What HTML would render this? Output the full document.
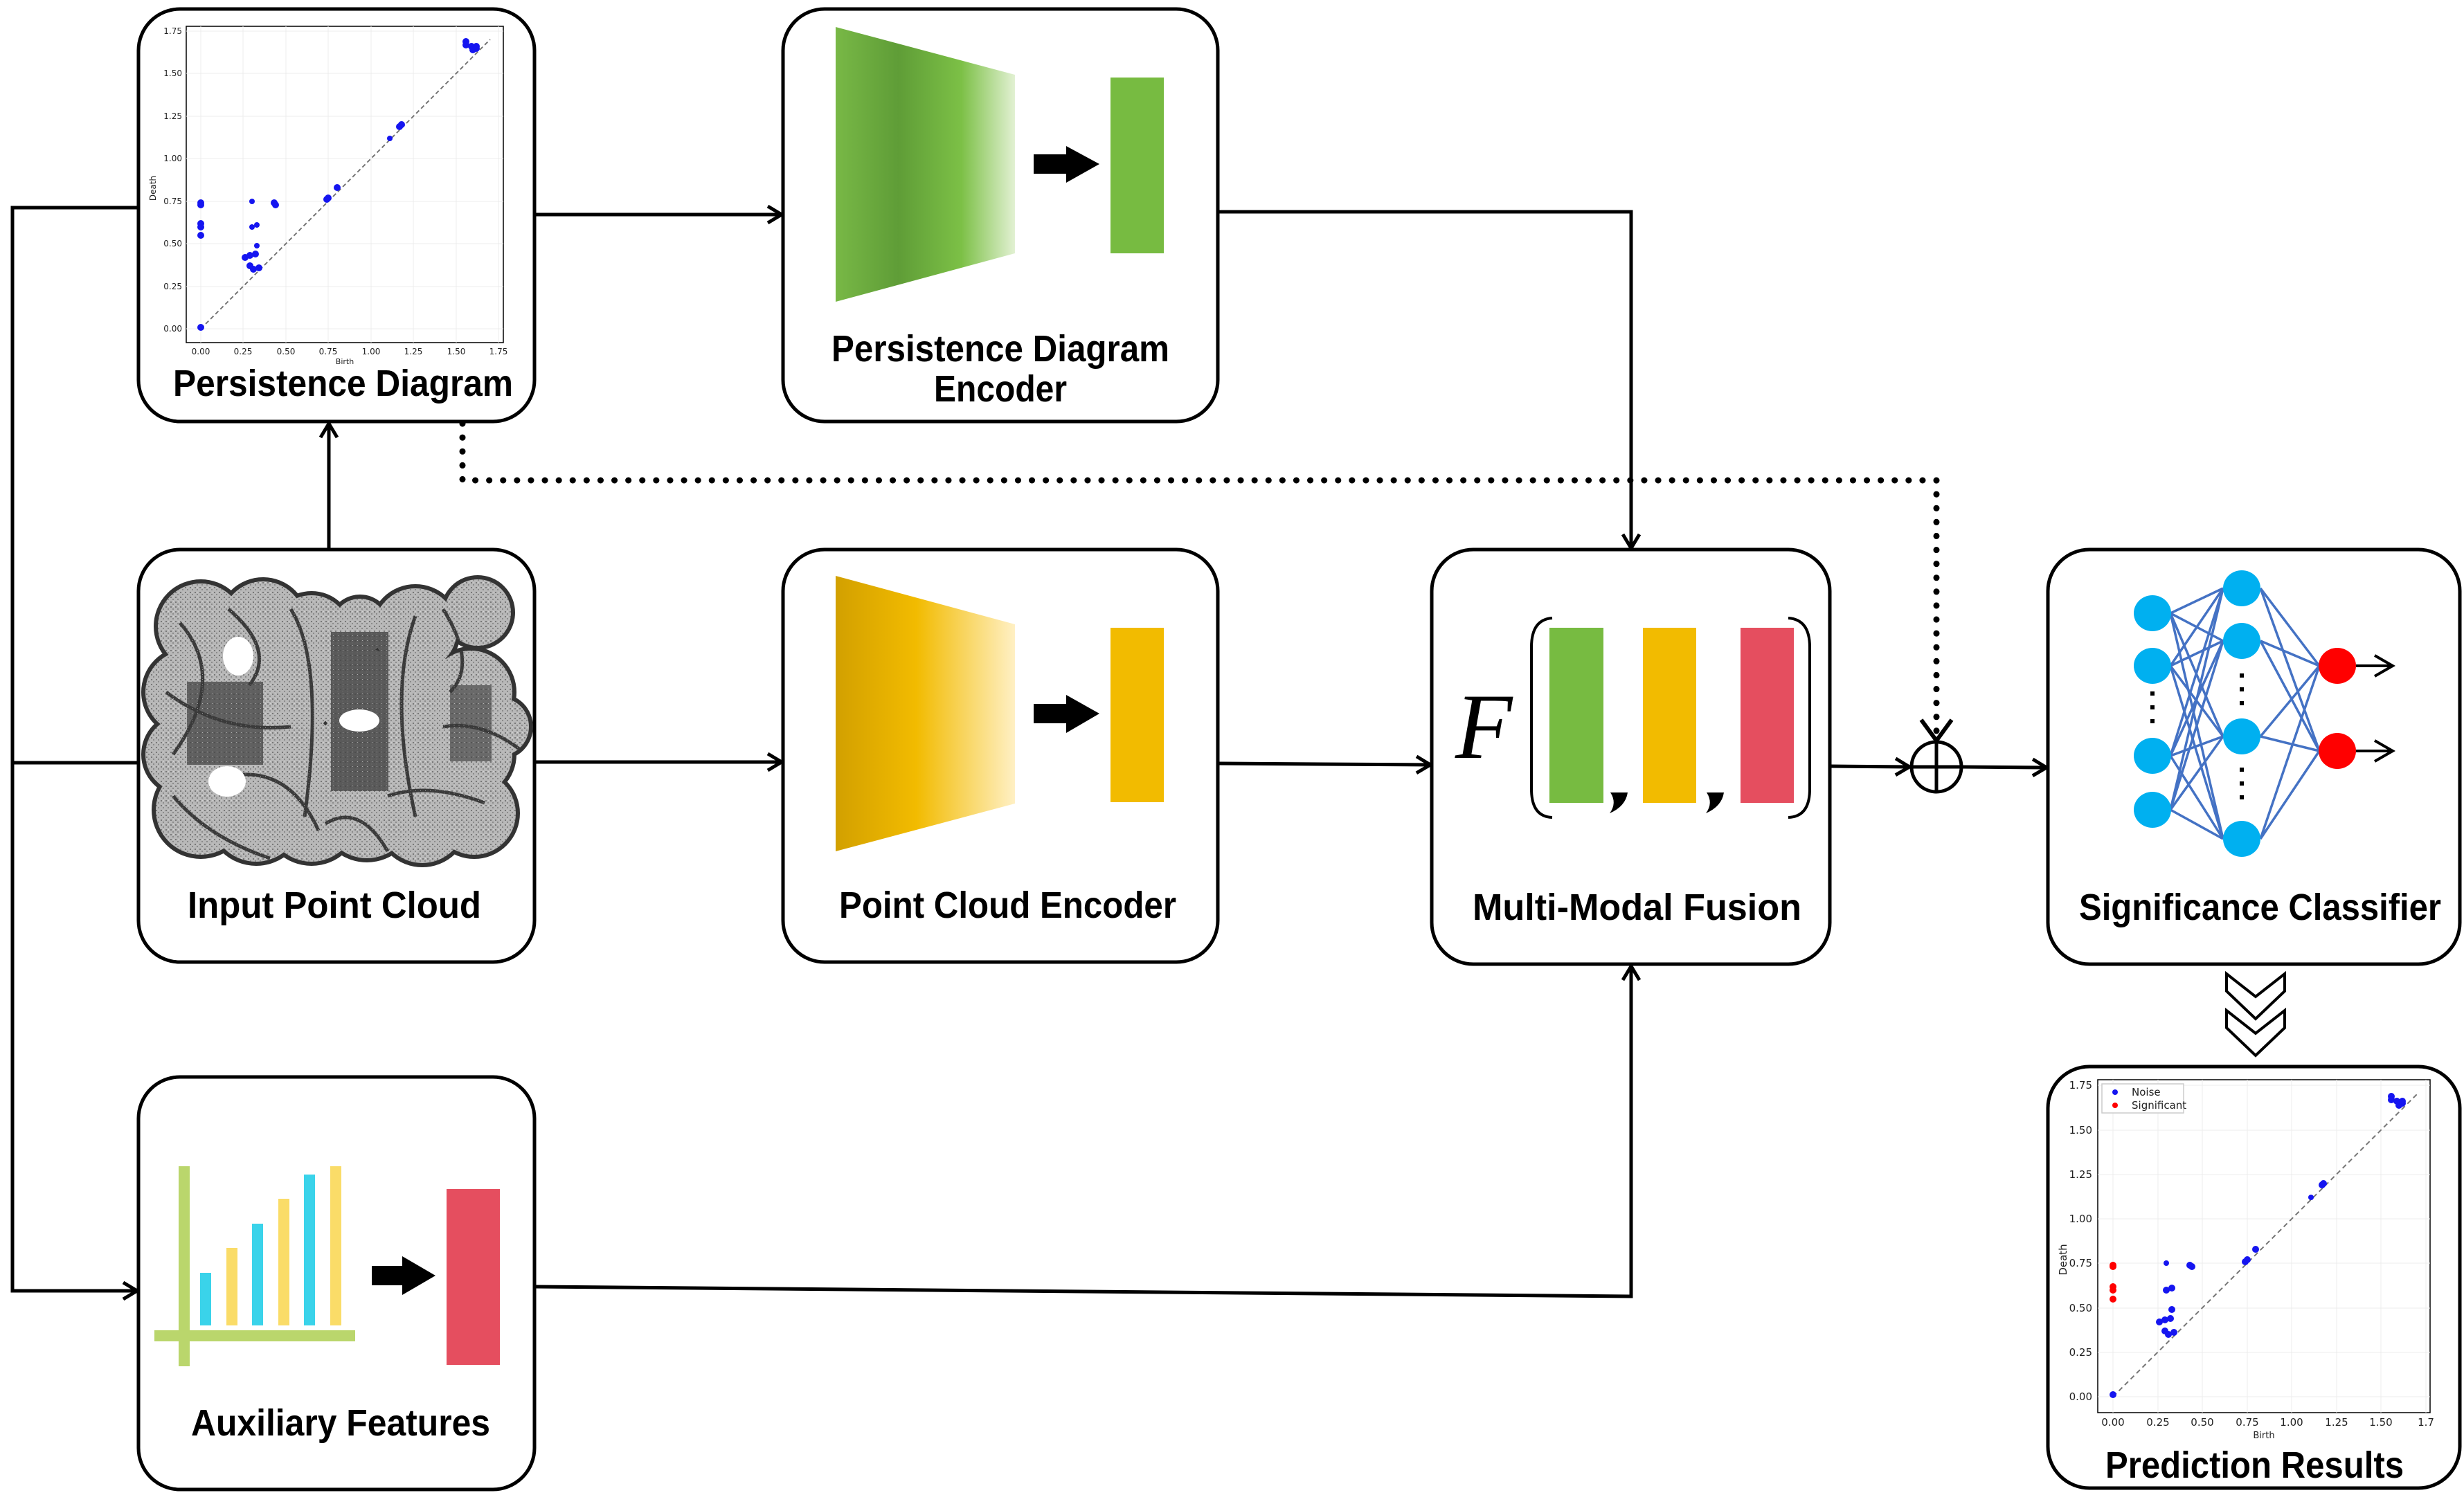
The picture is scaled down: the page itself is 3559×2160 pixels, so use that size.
<!DOCTYPE html>
<html><head><meta charset="utf-8"><style>
html,body{margin:0;padding:0;background:#fff;}
svg{display:block;}
.lbl{font-family:"Liberation Sans",sans-serif;font-weight:bold;font-size:54px;fill:#000;}
.tk{font-family:"DejaVu Sans","Liberation Sans",sans-serif;font-size:12px;fill:#222;}
.tk2{font-family:"DejaVu Sans","Liberation Sans",sans-serif;font-size:15px;fill:#222;}
</style></head><body>
<svg width="3559" height="2160" viewBox="0 0 3559 2160" xmlns="http://www.w3.org/2000/svg">
<defs>
<linearGradient id="gG" x1="0" x2="1" y1="0" y2="0">
<stop offset="0" stop-color="#78b846"/><stop offset="0.35" stop-color="#5f9d37"/><stop offset="0.7" stop-color="#7cc046"/><stop offset="1" stop-color="#e2f1d3"/>
</linearGradient>
<linearGradient id="gY" x1="0" x2="1" y1="0" y2="0">
<stop offset="0" stop-color="#d2a000"/><stop offset="0.45" stop-color="#f2bb00"/><stop offset="1" stop-color="#fff0c4"/>
</linearGradient>
<marker id="ah" markerWidth="30" markerHeight="30" refX="26" refY="15" orient="auto" markerUnits="userSpaceOnUse">
<polyline points="6,3 26,15 6,27" fill="none" stroke="#000" stroke-width="5"/>
</marker>
<pattern id="dots" width="7" height="7" patternUnits="userSpaceOnUse">
<rect x="1" y="1" width="2" height="2" fill="#444"/><rect x="4" y="4" width="2" height="2" fill="#666"/><rect x="5" y="1" width="1" height="1" fill="#eee"/>
</pattern>
<g id="blobc">
<circle cx="290" cy="905" r="62"/><circle cx="380" cy="900" r="60"/><circle cx="450" cy="915" r="55"/><circle cx="520" cy="905" r="40"/>
<circle cx="600" cy="910" r="60"/><circle cx="690" cy="885" r="48"/>
<circle cx="270" cy="1000" r="60"/><circle cx="340" cy="1000" r="65"/><circle cx="420" cy="1000" r="65"/><circle cx="520" cy="1000" r="65"/><circle cx="600" cy="1000" r="65"/><circle cx="680" cy="1000" r="60"/><circle cx="722" cy="1050" r="42"/>
<circle cx="265" cy="1090" r="55"/><circle cx="340" cy="1090" r="65"/><circle cx="420" cy="1090" r="65"/><circle cx="520" cy="1090" r="65"/><circle cx="600" cy="1090" r="65"/><circle cx="680" cy="1090" r="60"/>
<circle cx="290" cy="1170" r="65"/><circle cx="370" cy="1180" r="65"/><circle cx="450" cy="1180" r="65"/><circle cx="530" cy="1175" r="65"/><circle cx="610" cy="1185" r="62"/><circle cx="685" cy="1175" r="60"/>
</g>
<clipPath id="bc">
<circle cx="290" cy="905" r="62"/><circle cx="380" cy="900" r="60"/><circle cx="450" cy="915" r="55"/><circle cx="520" cy="905" r="40"/>
<circle cx="600" cy="910" r="60"/><circle cx="690" cy="885" r="48"/>
<circle cx="270" cy="1000" r="60"/><circle cx="340" cy="1000" r="65"/><circle cx="420" cy="1000" r="65"/><circle cx="520" cy="1000" r="65"/><circle cx="600" cy="1000" r="65"/><circle cx="680" cy="1000" r="60"/><circle cx="722" cy="1050" r="42"/>
<circle cx="265" cy="1090" r="55"/><circle cx="340" cy="1090" r="65"/><circle cx="420" cy="1090" r="65"/><circle cx="520" cy="1090" r="65"/><circle cx="600" cy="1090" r="65"/><circle cx="680" cy="1090" r="60"/>
<circle cx="290" cy="1170" r="65"/><circle cx="370" cy="1180" r="65"/><circle cx="450" cy="1180" r="65"/><circle cx="530" cy="1175" r="65"/><circle cx="610" cy="1185" r="62"/><circle cx="685" cy="1175" r="60"/>
</clipPath>
</defs>

<!-- connectors -->
<g fill="none" stroke="#000" stroke-width="5">
<polyline points="200,300 18,300 18,1865 198,1865" marker-end="url(#ah)"/>
<line x1="18" y1="1102" x2="200" y2="1102"/>
<line x1="774" y1="310" x2="1129" y2="310" marker-end="url(#ah)"/>
<line x1="774" y1="1101" x2="1129" y2="1101" marker-end="url(#ah)"/>
<line x1="475" y1="792" x2="475" y2="612" marker-end="url(#ah)"/>
<polyline points="1759,306 2356,306 2356,792" marker-end="url(#ah)"/>
<line x1="1759" y1="1103" x2="2066" y2="1105" marker-end="url(#ah)"/>
<polyline points="774,1859 2356,1873 2356,1396" marker-end="url(#ah)"/>
<line x1="2643" y1="1107" x2="2758" y2="1108" marker-end="url(#ah)"/>
<line x1="2834" y1="1108" x2="2956" y2="1109" marker-end="url(#ah)"/>
<circle cx="2797" cy="1108" r="36"/>
<line x1="2797" y1="1072" x2="2797" y2="1144"/><line x1="2761" y1="1108" x2="2833" y2="1108"/>
</g>
<polyline points="668,612 668,694 2797,694 2797,1066" fill="none" stroke="#000" stroke-width="9" stroke-dasharray="0.1 20" stroke-linecap="round"/>
<polyline points="2775,1040 2797,1070 2819,1040" fill="none" stroke="#000" stroke-width="6"/>

<!-- boxes -->
<g fill="#fff" stroke="#000" stroke-width="5">
<rect x="200" y="13" width="572" height="596" rx="60"/>
<rect x="1131" y="13" width="628" height="596" rx="60"/>
<rect x="200" y="794" width="572" height="596" rx="60"/>
<rect x="1131" y="794" width="628" height="596" rx="60"/>
<rect x="2068" y="794" width="575" height="599" rx="60"/>
<rect x="2958" y="794" width="595" height="599" rx="60"/>
<rect x="2958" y="1541" width="595" height="609" rx="60"/>
<rect x="200" y="1556" width="572" height="596" rx="60"/>
</g>

<!-- PD plot -->
<g>
<rect x="269" y="38" width="458" height="457" fill="#fff" stroke="#000" stroke-width="1.5"/>
<g stroke="#ececec" stroke-width="1">
<line x1="290" y1="38" x2="290" y2="495"/><line x1="351" y1="38" x2="351" y2="495"/><line x1="413" y1="38" x2="413" y2="495"/><line x1="474" y1="38" x2="474" y2="495"/><line x1="536" y1="38" x2="536" y2="495"/><line x1="597" y1="38" x2="597" y2="495"/><line x1="659" y1="38" x2="659" y2="495"/><line x1="720" y1="38" x2="720" y2="495"/>
<line x1="269" y1="475" x2="727" y2="475"/><line x1="269" y1="414" x2="727" y2="414"/><line x1="269" y1="352" x2="727" y2="352"/><line x1="269" y1="291" x2="727" y2="291"/><line x1="269" y1="229" x2="727" y2="229"/><line x1="269" y1="168" x2="727" y2="168"/><line x1="269" y1="106" x2="727" y2="106"/><line x1="269" y1="45" x2="727" y2="45"/>
</g>
<line x1="290" y1="475" x2="708" y2="57" stroke="#777" stroke-width="2" stroke-dasharray="6 4"/>
<g class="tk" text-anchor="middle">
<text x="290" y="512">0.00</text><text x="351" y="512">0.25</text><text x="413" y="512">0.50</text><text x="474" y="512">0.75</text><text x="536" y="512">1.00</text><text x="597" y="512">1.25</text><text x="659" y="512">1.50</text><text x="720" y="512">1.75</text>
<text x="498" y="526" font-size="11">Birth</text>
</g>
<g class="tk" text-anchor="end">
<text x="263" y="479">0.00</text><text x="263" y="418">0.25</text><text x="263" y="356">0.50</text><text x="263" y="295">0.75</text><text x="263" y="233">1.00</text><text x="263" y="172">1.25</text><text x="263" y="110">1.50</text><text x="263" y="49">1.75</text>
</g>
<text class="tk" font-size="11" transform="translate(225,272) rotate(-90)" text-anchor="middle">Death</text>
<g fill="#1515f0">
<circle cx="290" cy="473" r="5"/><circle cx="290" cy="293" r="5"/><circle cx="290" cy="296" r="5"/><circle cx="290" cy="323" r="5"/><circle cx="290" cy="328" r="5"/><circle cx="290" cy="340" r="5"/>
<circle cx="364" cy="291" r="4"/><circle cx="364" cy="328" r="4"/><circle cx="371" cy="325" r="4"/><circle cx="396" cy="293" r="5"/><circle cx="398" cy="296" r="5"/>
<circle cx="354" cy="372" r="5"/><circle cx="361" cy="369" r="5"/><circle cx="369" cy="367" r="5"/><circle cx="371" cy="355" r="4"/><circle cx="361" cy="384" r="5"/><circle cx="366" cy="389" r="5"/><circle cx="374" cy="387" r="5"/>
<circle cx="472" cy="288" r="5"/><circle cx="474" cy="286" r="5"/><circle cx="487" cy="271" r="5"/>
<circle cx="563" cy="200" r="4"/><circle cx="577" cy="183" r="5"/><circle cx="580" cy="180" r="5"/>
<circle cx="673" cy="60" r="5"/><circle cx="673" cy="65" r="5"/><circle cx="681" cy="67" r="5"/><circle cx="688" cy="70" r="5"/><circle cx="683" cy="72" r="5"/><circle cx="688" cy="67" r="5"/>
</g>
</g>
<text class="lbl" x="250" y="572" textLength="491" lengthAdjust="spacingAndGlyphs">Persistence Diagram</text>

<!-- PD encoder -->
<polygon points="1207,39 1466,108 1466,366 1207,436" fill="url(#gG)"/>
<polygon points="1493,223 1540,223 1540,211 1588,237 1540,264 1540,251 1493,251" fill="#000"/>
<rect x="1604" y="112" width="77" height="254" fill="#77bb41"/>
<text class="lbl" x="1201" y="522" textLength="488" lengthAdjust="spacingAndGlyphs">Persistence Diagram</text>
<text class="lbl" x="1349" y="580" textLength="192" lengthAdjust="spacingAndGlyphs">Encoder</text>

<!-- point cloud -->
<g>
<use href="#blobc" fill="#333" stroke="#333" stroke-width="12"/>
<use href="#blobc" fill="#b8b8b8"/>
<g clip-path="url(#bc)">
<rect x="478" y="913" width="83" height="230" fill="#5a5a5a"/>
<rect x="270" y="985" width="110" height="120" fill="#606060"/>
<rect x="650" y="990" width="60" height="110" fill="#6a6a6a"/>
<g fill="none" stroke="#3a3a3a" stroke-width="5">
<path d="M420,880 Q470,960 440,1180"/><path d="M600,890 Q560,1000 600,1180"/><path d="M240,1000 Q320,1060 420,1050"/>
<path d="M640,1050 Q700,1040 760,1090"/><path d="M340,1120 Q420,1110 460,1200"/><path d="M560,1150 Q620,1130 700,1160"/>
<path d="M260,900 Q330,980 250,1090"/><path d="M330,880 Q400,940 360,990"/><path d="M640,880 Q690,960 650,1000"/>
<path d="M470,1190 Q520,1160 560,1230"/><path d="M250,1150 Q300,1210 390,1240"/>
</g>
<rect x="200" y="830" width="570" height="430" fill="url(#dots)" opacity="0.55"/>
</g>
<ellipse cx="344" cy="948" rx="22" ry="28" fill="#fff"/>
<ellipse cx="519" cy="1041" rx="29" ry="16" fill="#fff"/>
<ellipse cx="328" cy="1129" rx="27" ry="22" fill="#fff"/>
</g>
<text class="lbl" x="271" y="1326" textLength="424" lengthAdjust="spacingAndGlyphs">Input Point Cloud</text>

<!-- PC encoder -->
<polygon points="1207,832 1466,902 1466,1161 1207,1230" fill="url(#gY)"/>
<polygon points="1493,1017 1540,1017 1540,1004 1588,1031 1540,1059 1540,1045 1493,1045" fill="#000"/>
<rect x="1604" y="907" width="77" height="252" fill="#f2bb00"/>
<text class="lbl" x="1212" y="1326" textLength="487" lengthAdjust="spacingAndGlyphs">Point Cloud Encoder</text>

<!-- Fusion -->
<text x="2102" y="1095" font-family="Liberation Serif,serif" font-style="italic" font-size="135" fill="#000">F</text>
<path d="M2242,893 Q2212,895 2212,935 L2212,1140 Q2212,1180 2242,1181" fill="none" stroke="#000" stroke-width="4"/>
<path d="M2583,893 Q2614,895 2614,935 L2614,1140 Q2614,1180 2583,1181" fill="none" stroke="#000" stroke-width="4"/>
<rect x="2238" y="907" width="78" height="253" fill="#77bb41"/>
<rect x="2373" y="907" width="77" height="253" fill="#f2bb00"/>
<rect x="2514" y="907" width="77" height="253" fill="#e54e5f"/>
<path d="M2326,1145 L2351,1145 Q2348,1165 2325,1175 Q2336,1160 2326,1145 Z" fill="#000"/>
<path d="M2465,1145 L2490,1145 Q2487,1165 2464,1175 Q2475,1160 2465,1145 Z" fill="#000"/>
<text class="lbl" x="2127" y="1329" textLength="475" lengthAdjust="spacingAndGlyphs">Multi-Modal Fusion</text>

<!-- NN -->
<g stroke="#4472c4" stroke-width="3.5">
<line x1="3135" y1="886" x2="3211" y2="850"/><line x1="3135" y1="886" x2="3211" y2="926"/><line x1="3135" y1="886" x2="3211" y2="1064"/><line x1="3135" y1="886" x2="3211" y2="1212"/>
<line x1="3135" y1="962" x2="3211" y2="850"/><line x1="3135" y1="962" x2="3211" y2="926"/><line x1="3135" y1="962" x2="3211" y2="1064"/><line x1="3135" y1="962" x2="3211" y2="1212"/>
<line x1="3135" y1="1092" x2="3211" y2="850"/><line x1="3135" y1="1092" x2="3211" y2="926"/><line x1="3135" y1="1092" x2="3211" y2="1064"/><line x1="3135" y1="1092" x2="3211" y2="1212"/>
<line x1="3135" y1="1170" x2="3211" y2="850"/><line x1="3135" y1="1170" x2="3211" y2="926"/><line x1="3135" y1="1170" x2="3211" y2="1064"/><line x1="3135" y1="1170" x2="3211" y2="1212"/>
<line x1="3265" y1="850" x2="3350" y2="962"/><line x1="3265" y1="850" x2="3350" y2="1085"/>
<line x1="3265" y1="926" x2="3350" y2="962"/><line x1="3265" y1="926" x2="3350" y2="1085"/>
<line x1="3265" y1="1064" x2="3350" y2="962"/><line x1="3265" y1="1064" x2="3350" y2="1085"/>
<line x1="3265" y1="1212" x2="3350" y2="962"/><line x1="3265" y1="1212" x2="3350" y2="1085"/>
</g>
<g fill="#00b0f0">
<ellipse cx="3109" cy="886" rx="27" ry="26"/><ellipse cx="3109" cy="962" rx="27" ry="26"/><ellipse cx="3109" cy="1092" rx="27" ry="26"/><ellipse cx="3109" cy="1170" rx="27" ry="26"/>
<ellipse cx="3238" cy="850" rx="27" ry="26"/><ellipse cx="3238" cy="926" rx="27" ry="26"/><ellipse cx="3238" cy="1064" rx="27" ry="26"/><ellipse cx="3238" cy="1212" rx="27" ry="26"/>
</g>
<g fill="#f00"><ellipse cx="3376" cy="962" rx="27" ry="26"/><ellipse cx="3376" cy="1085" rx="27" ry="26"/></g>
<g fill="#000">
<rect x="3106" y="999" width="6" height="6"/><rect x="3106" y="1019" width="6" height="6"/><rect x="3106" y="1039" width="6" height="6"/>
<rect x="3235" y="973" width="6" height="6"/><rect x="3235" y="993" width="6" height="6"/><rect x="3235" y="1013" width="6" height="6"/>
<rect x="3235" y="1109" width="6" height="6"/><rect x="3235" y="1129" width="6" height="6"/><rect x="3235" y="1149" width="6" height="6"/>
</g>
<g fill="none" stroke="#000" stroke-width="4">
<line x1="3403" y1="962" x2="3456" y2="962"/><polyline points="3430,947 3456,962 3430,977"/>
<line x1="3403" y1="1085" x2="3456" y2="1085"/><polyline points="3430,1070 3456,1085 3430,1100"/>
</g>
<text class="lbl" x="3003" y="1329" textLength="523" lengthAdjust="spacingAndGlyphs">Significance Classifier</text>

<!-- chevrons -->
<g fill="#fff" stroke="#000" stroke-width="4">
<polygon points="3216,1407 3258,1440 3300,1407 3300,1432 3258,1472 3216,1432"/>
<polygon points="3216,1460 3258,1493 3300,1460 3300,1485 3258,1525 3216,1485"/>
</g>

<!-- prediction plot -->
<g>
<rect x="3030" y="1560" width="480" height="481" fill="#fff" stroke="#000" stroke-width="1.5"/>
<g stroke="#ececec" stroke-width="1">
<line x1="3052" y1="1560" x2="3052" y2="2041"/><line x1="3117" y1="1560" x2="3117" y2="2041"/><line x1="3181" y1="1560" x2="3181" y2="2041"/><line x1="3246" y1="1560" x2="3246" y2="2041"/><line x1="3310" y1="1560" x2="3310" y2="2041"/><line x1="3375" y1="1560" x2="3375" y2="2041"/><line x1="3439" y1="1560" x2="3439" y2="2041"/><line x1="3504" y1="1560" x2="3504" y2="2041"/>
<line x1="3030" y1="2018" x2="3510" y2="2018"/><line x1="3030" y1="1954" x2="3510" y2="1954"/><line x1="3030" y1="1890" x2="3510" y2="1890"/><line x1="3030" y1="1825" x2="3510" y2="1825"/><line x1="3030" y1="1761" x2="3510" y2="1761"/><line x1="3030" y1="1697" x2="3510" y2="1697"/><line x1="3030" y1="1633" x2="3510" y2="1633"/><line x1="3030" y1="1568" x2="3510" y2="1568"/>
</g>
<line x1="3052" y1="2018" x2="3491" y2="1581" stroke="#777" stroke-width="2" stroke-dasharray="7 5"/>
<g class="tk2" text-anchor="middle">
<text x="3052" y="2060">0.00</text><text x="3117" y="2060">0.25</text><text x="3181" y="2060">0.50</text><text x="3246" y="2060">0.75</text><text x="3310" y="2060">1.00</text><text x="3375" y="2060">1.25</text><text x="3439" y="2060">1.50</text><text x="3504" y="2060">1.7</text>
<text x="3270" y="2078" font-size="13">Birth</text>
</g>
<g class="tk2" text-anchor="end">
<text x="3022" y="2023">0.00</text><text x="3022" y="1959">0.25</text><text x="3022" y="1895">0.50</text><text x="3022" y="1830">0.75</text><text x="3022" y="1766">1.00</text><text x="3022" y="1702">1.25</text><text x="3022" y="1638">1.50</text><text x="3022" y="1573">1.75</text>
</g>
<text class="tk2" font-size="12" transform="translate(2985,1820) rotate(-90)" text-anchor="middle">Death</text>
<rect x="3036" y="1566" width="118" height="42" fill="#fff" stroke="#ccc" stroke-width="1.5"/>
<circle cx="3055" cy="1578" r="4" fill="#1515f0"/><circle cx="3055" cy="1597" r="4" fill="#f00"/>
<text class="tk2" x="3079" y="1583" font-size="13">Noise</text><text class="tk2" x="3079" y="1602" font-size="13">Significant</text>
<g fill="#f00">
<circle cx="3052" cy="1828" r="5"/><circle cx="3052" cy="1830" r="5"/><circle cx="3052" cy="1859" r="5"/><circle cx="3052" cy="1864" r="5"/><circle cx="3052" cy="1877" r="5"/>
</g>
<g fill="#1515f0">
<circle cx="3052" cy="2015" r="5"/>
<circle cx="3129" cy="1825" r="4"/><circle cx="3129" cy="1864" r="5"/><circle cx="3137" cy="1861" r="5"/><circle cx="3163" cy="1828" r="5"/><circle cx="3166" cy="1830" r="5"/>
<circle cx="3119" cy="1910" r="5"/><circle cx="3127" cy="1907" r="5"/><circle cx="3135" cy="1905" r="5"/><circle cx="3137" cy="1892" r="5"/><circle cx="3127" cy="1923" r="5"/><circle cx="3132" cy="1928" r="5"/><circle cx="3140" cy="1925" r="5"/>
<circle cx="3243" cy="1823" r="5"/><circle cx="3246" cy="1820" r="5"/><circle cx="3258" cy="1805" r="5"/>
<circle cx="3338" cy="1730" r="4"/><circle cx="3354" cy="1712" r="5"/><circle cx="3356" cy="1710" r="5"/>
<circle cx="3454" cy="1584" r="5"/><circle cx="3454" cy="1589" r="5"/><circle cx="3462" cy="1591" r="5"/><circle cx="3470" cy="1594" r="5"/><circle cx="3465" cy="1597" r="5"/><circle cx="3470" cy="1591" r="5"/>
</g>
</g>
<text class="lbl" x="3041" y="2135" textLength="431" lengthAdjust="spacingAndGlyphs">Prediction Results</text>

<!-- Aux features -->
<rect x="258" y="1685" width="16" height="289" fill="#bad66c"/>
<rect x="223" y="1922" width="290" height="16" fill="#bad66c"/>
<rect x="289" y="1839" width="16" height="76" fill="#3ad3ea"/>
<rect x="327" y="1803" width="16" height="112" fill="#fadc68"/>
<rect x="364" y="1768" width="16" height="147" fill="#3ad3ea"/>
<rect x="402" y="1732" width="16" height="183" fill="#fadc68"/>
<rect x="439" y="1697" width="16" height="218" fill="#3ad3ea"/>
<rect x="477" y="1685" width="16" height="230" fill="#fadc68"/>
<polygon points="537,1829 581,1829 581,1815 629,1843 581,1871 581,1857 537,1857" fill="#000"/>
<rect x="645" y="1718" width="77" height="254" fill="#e54e5f"/>
<text class="lbl" x="276" y="2074" textLength="432" lengthAdjust="spacingAndGlyphs">Auxiliary Features</text>
</svg>
</body></html>
